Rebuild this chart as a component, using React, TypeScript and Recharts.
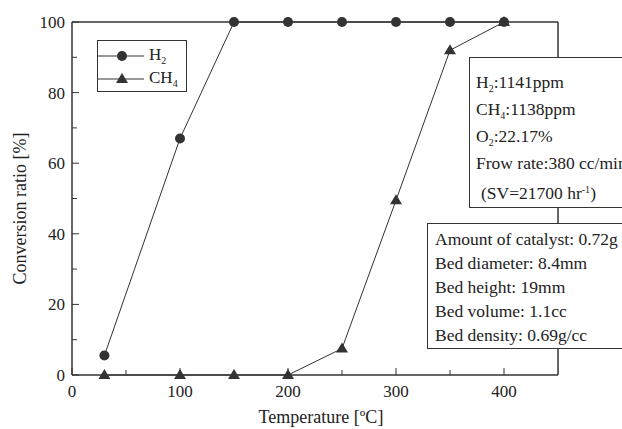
import React from "react";
import { LineChart, Line, XAxis, YAxis, ReferenceLine, Legend, Label } from "recharts";

const temperatures = [30, 100, 150, 200, 250, 300, 350, 400];
const h2Conversion = [5.5, 67, 100, 100, 100, 100, 100, 100];
const ch4Conversion = [0, 0, 0, 0, 7.5, 49.5, 92, 100];

const xTicks = [0, 50, 100, 150, 200, 250, 300, 350, 400];
const xLabels = [0, 100, 200, 300, 400];
const yTicks = [0, 10, 20, 30, 40, 50, 60, 70, 80, 90, 100];
const yLabels = [0, 20, 40, 60, 80, 100];

const data = temperatures.map((t, i) => ({
  temp: t,
  h2: h2Conversion[i],
  ch4: ch4Conversion[i],
}));

const INK = "#333";
const FONT = "'Liberation Serif', 'Times New Roman', serif";

const Sub = ({ children }: { children: React.ReactNode }) => (
  <span style={{ fontSize: 10, position: "relative", top: 4 }}>{children}</span>
);

const XTick = (props: any) => {
  const { x, y, payload } = props;
  const major = xLabels.includes(payload.value);
  return (
    <g>
      <line x1={x} x2={x} y1={y} y2={y - (major ? 7 : 5)} stroke={INK} />
      {major && (
        <text x={x} y={y + 22} textAnchor="middle" fontSize={17} fontFamily={FONT} fill="#222">
          {payload.value}
        </text>
      )}
    </g>
  );
};

const YTick = (props: any) => {
  const { x, y, payload } = props;
  const major = yLabels.includes(payload.value);
  return (
    <g>
      <line x1={x} x2={x + (major ? 7 : 5)} y1={y} y2={y} stroke={INK} />
      {major && (
        <text x={x - 7} y={y + 6} textAnchor="end" fontSize={17} fontFamily={FONT} fill="#222">
          {payload.value}
        </text>
      )}
    </g>
  );
};

const Triangle = (props: any) => {
  const { cx, cy } = props;
  if (cx == null || cy == null) return null;
  return <path d={`M${cx},${cy - 6} L${cx + 6},${cy + 4} L${cx - 6},${cy + 4} Z`} fill={INK} />;
};

const LegendBox = () => {
  const row = (marker: React.ReactNode, label: React.ReactNode) => (
    <div style={{ display: "flex", alignItems: "center", height: 23 }}>
      <svg width={48} height={14}>
        <line x1={0} x2={46} y1={7} y2={7} stroke={INK} />
        {marker}
      </svg>
      <span style={{ marginLeft: 3 }}>{label}</span>
    </div>
  );
  return (
    <div
      style={{
        border: `1.5px solid ${INK}`,
        background: "#fff",
        width: 88,
        height: 47,
        padding: "3px 0 0 0",
        boxSizing: "content-box",
        fontFamily: FONT,
        fontSize: 17,
        color: "#222",
        lineHeight: "18px",
        textAlign: "left",
      }}
    >
      {row(<circle cx={24} cy={7} r={5} fill={INK} />, <>H<Sub>2</Sub></>)}
      {row(<path d="M24,1 L30,11 L18,11 Z" fill={INK} />, <>CH<Sub>4</Sub></>)}
    </div>
  );
};

export default function App() {
  const boxStyle: React.CSSProperties = {
    position: "absolute",
    background: "#fff",
    border: `1.5px solid ${INK}`,
    fontFamily: FONT,
    fontSize: 17.5,
    color: "#222",
    lineHeight: "24px",
    whiteSpace: "nowrap",
    boxSizing: "border-box",
  };
  return (
    <div style={{ position: "absolute", left: 0, top: 0, width: 622, height: 429, overflow: "hidden", background: "#fff" }}>
      <LineChart width={622} height={429} data={data} margin={{ top: 22, right: 64, bottom: 10, left: 0 }}>
        <XAxis
          dataKey="temp"
          type="number"
          domain={[0, 450]}
          ticks={xTicks}
          interval={0}
          tickSize={0}
          tickMargin={0}
          tickLine={false}
          tick={<XTick />}
          height={44}
          stroke={INK}
          strokeWidth={1.5}
        >
          <Label
            content={(p: any) => (
              <text
                x={p.viewBox.x + p.viewBox.width / 2 + 6}
                y={p.viewBox.y + 48}
                textAnchor="middle"
                fontSize={18}
                fontFamily={FONT}
                fill="#222"
              >
                Temperature [ºC]
              </text>
            )}
          />
        </XAxis>
        <YAxis
          type="number"
          domain={[0, 100]}
          ticks={yTicks}
          interval={0}
          tickSize={0}
          tickMargin={0}
          tickLine={false}
          tick={<YTick />}
          width={72}
          stroke={INK}
          strokeWidth={1.5}
        >
          <Label
            content={(p: any) => {
              const cx = 26;
              const cy = p.viewBox.y + p.viewBox.height / 2 + 10;
              return (
                <text
                  x={cx}
                  y={cy}
                  transform={`rotate(-90 ${cx} ${cy})`}
                  textAnchor="middle"
                  fontSize={18}
                  fontFamily={FONT}
                  fill="#222"
                >
                  Conversion ratio [%]
                </text>
              );
            }}
          />
        </YAxis>
        <ReferenceLine y={100} stroke={INK} strokeWidth={1.5} />
        <ReferenceLine x={450} stroke={INK} strokeWidth={1.5} />
        <Legend
          layout="horizontal"
          verticalAlign="middle"
          align="center"
          content={() => <LegendBox />}
          wrapperStyle={{ position: "absolute", left: 97, top: 40, width: "auto" }}
        />
        <Line
          dataKey="h2"
          name="H2"
          stroke={INK}
          strokeWidth={1}
          dot={{ r: 5, fill: INK, stroke: INK, strokeWidth: 0 }}
          isAnimationActive={false}
        />
        <Line
          dataKey="ch4"
          name="CH4"
          stroke={INK}
          strokeWidth={1}
          dot={<Triangle />}
          isAnimationActive={false}
        />
      </LineChart>
      <div style={{ ...boxStyle, left: 469, top: 57, width: 180, height: 151, padding: "12px 0 0 6px" }}>
        <div>H<Sub>2</Sub>:1141ppm</div>
        <div>CH<Sub>4</Sub>:1138ppm</div>
        <div>O<Sub>2</Sub>:22.17%</div>
        <div>Frow rate:380 cc/min</div>
        <div style={{ marginTop: 6, paddingLeft: 5 }}>
          (SV=21700 hr<span style={{ fontSize: 10, position: "relative", top: -6 }}>-1</span>)
        </div>
      </div>
      <div style={{ ...boxStyle, left: 427, top: 223, width: 220, height: 126, padding: "3px 0 0 7px" }}>
        <div>Amount of catalyst: 0.72g</div>
        <div>Bed diameter: 8.4mm</div>
        <div>Bed height: 19mm</div>
        <div>Bed volume: 1.1cc</div>
        <div>Bed density: 0.69g/cc</div>
      </div>
    </div>
  );
}
